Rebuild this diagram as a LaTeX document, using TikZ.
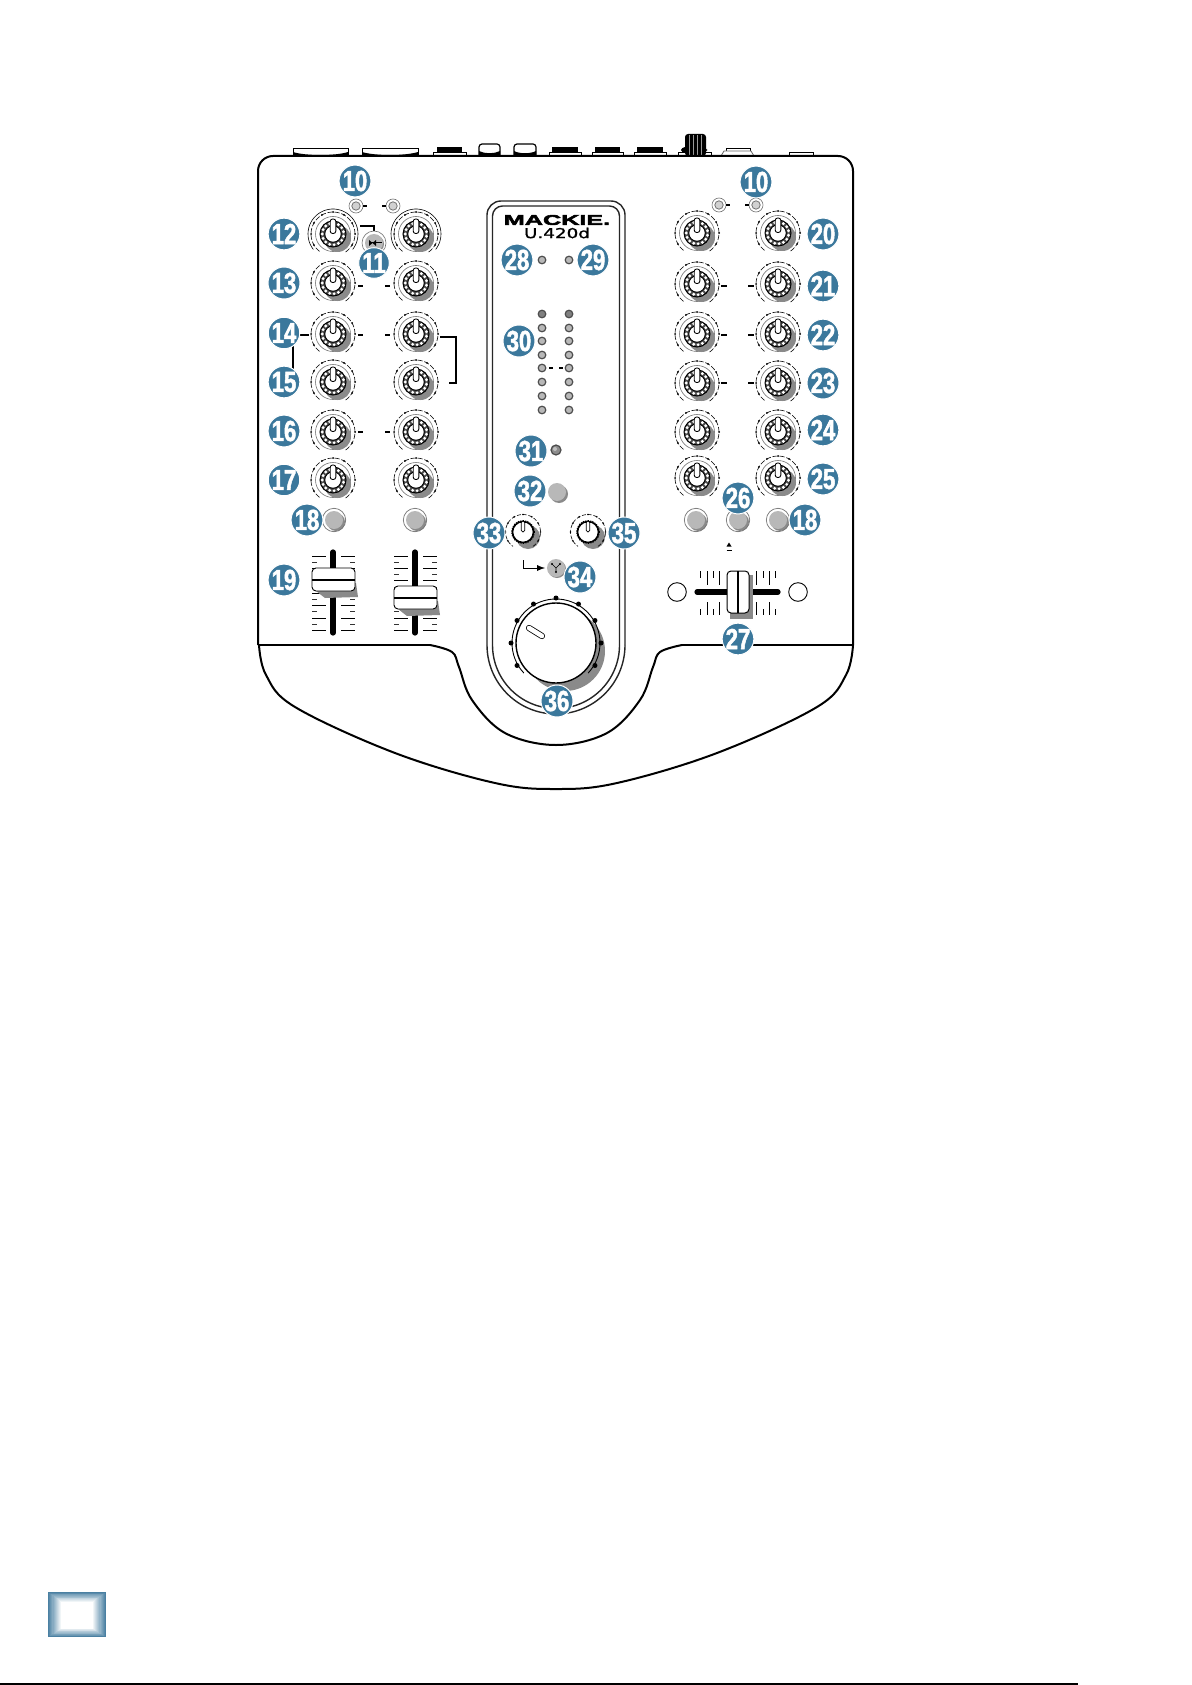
\documentclass[tikz,border=0pt]{standalone}
\usepackage{fontspec}
\setmainfont{Liberation Sans}
\newfontfamily\badgefont[FakeStretch=0.76,FakeBold=1.8]{Liberation Sans}
\newfontfamily\logofont[FakeStretch=1.8,FakeBold=4]{Liberation Sans}
\newfontfamily\modelfont[FakeStretch=1.35,FakeBold=1.2]{DejaVu Sans}
\definecolor{badgeblue}{HTML}{3B789C}
\definecolor{shad}{HTML}{8A8A8A}
\definecolor{ledgray}{HTML}{B8B8B8}
\definecolor{boxblue}{HTML}{4A80A2}
\tikzset{
  badge/.style={circle,fill=badgeblue,draw=white,line width=0.5pt,minimum size=15pt,inner sep=0pt,text=white,
     font=\badgefont\fontsize{14.5}{14.5}\selectfont\bfseries},
  outline/.style={line width=1pt,black,line join=round},
  conn/.style={line width=0.55pt,black},
  ringg/.style={line width=0.3pt,black!55},
  trk/.style={line width=2.6pt,black,line cap=round},
  jackbase/.style={line width=0.5pt,black,fill=white},
}
\newcommand{\ringarc}[3]{plot[variable=\t,domain=#1:#2,samples=40,smooth] (\t:#3)}
\newcommand{\knob}[2]{%
 \begin{scope}[shift={(#1,#2)},yscale=-1]
  \draw[ringg] (0,0) circle[radius=17.5];
  \fill[shad] (4.5,-4.5) circle[radius=13.5];
  \draw[line width=0.5pt,fill=black!70] (0,0) circle[radius=13];
  \foreach \a in {0,24,...,336}{\fill[white] (\a+12:10.8) circle[radius=1.6];}
  \draw[line width=0.5pt,fill=white] (0,0) circle[radius=8.3];
  \draw[line width=0.45pt,fill=white,rounded corners=1.2pt] (-2.8,0.5) rectangle (2.8,15);
  \draw[line width=0.3pt,dash pattern=on 2.6pt off 0.9pt] \ringarc{-55}{235}{22};
  \foreach \a in {-30,0,...,210}{\fill (\a:22) circle[radius=1];}
 \end{scope}}
\newcommand{\knobtop}[2]{%
 \knob{#1}{#2}
 \begin{scope}[shift={(#1,#2)},yscale=-1]
  \draw[line width=0.3pt] \ringarc{-38}{218}{25};
 \end{scope}}
\newcommand{\smallknob}[2]{%
 \begin{scope}[shift={(#1,#2)},yscale=-1]
  \fill[shad] (5,-5) circle[radius=12];
  \draw[line width=0.8pt,fill=white] (0,0) circle[radius=10.5];
  \draw[line width=0.6pt,dash pattern=on 0.6pt off 0.6pt] (0,0) circle[radius=11.3];
  \draw[line width=0.35pt,fill=white,rounded corners=0.8pt] (-1.8,0) rectangle (1.8,11);
  \draw[line width=0.3pt,dash pattern=on 2pt off 0.9pt] \ringarc{-55}{235}{17.5};
  \foreach \a in {-30,0,...,210}{\fill (\a:17.5) circle[radius=0.9];}
 \end{scope}}
\newcommand{\btn}[2]{%
 \fill[shad] (#1+2,#2+2) circle[radius=9];
 \fill[ledgray] (#1,#2) circle[radius=9];
 \draw[ringg,line width=0.35pt] (#1,#2) circle[radius=11.7];}
\newcommand{\led}[2]{%
 \draw[line width=0.6pt,draw=black!70,fill=ledgray] (#1,#2) circle[radius=3.8];}
\newcommand{\ledring}[2]{%
 \draw[line width=0.4pt,draw=black!55,fill=black!18] (#1,#2) circle[radius=4.2];
 \draw[ringg] (#1,#2) circle[radius=7];}
\newcommand{\faderticks}[1]{%
 \foreach \i in {0,2,...,12}{%
  \draw[line width=0.45pt] (#1-21,556+6.2*\i) -- (#1-7,556+6.2*\i);
  \draw[line width=0.45pt] (#1+8,556+6.2*\i) -- (#1+22,556+6.2*\i);}
 \foreach \i in {1,3,...,11}{%
  \draw[line width=0.45pt,black!80] (#1-21,556+6.2*\i) -- (#1-16,556+6.2*\i);
  \draw[line width=0.45pt,black!80] (#1+17,556+6.2*\i) -- (#1+22,556+6.2*\i);}
 \draw[trk] (#1,552) -- (#1,633);}
\newcommand{\faderknob}[2]{%
 \fill[shad] (#1-17,#2+11) -- (#1+23,#2+3) -- (#1+25,#2+17) -- (#1-8,#2+18) -- cycle;
 \draw[line width=0.45pt,fill=white,rounded corners=2pt] (#1-21,#2-12) rectangle (#1+22,#2+11);
 \draw[line width=1pt] (#1-21,#2) -- (#1+22,#2);}
\newcommand{\panel}[3]{% half-width, corner radius in pt, top
 \draw[line width=0.7pt,black!85,rounded corners=#2pt] (556-#1,645) -- (556-#1,#3) -- (556+#1,#3) -- (556+#1,645);
 \draw[line width=0.7pt,black!85] (556+#1,645) .. controls (556+#1,645+#1*0.5523) and (556+#1*0.5523,645+#1) .. (556,645+#1)
    .. controls (556-#1*0.5523,645+#1) and (556-#1,645+#1*0.5523) .. (556-#1,645);}
\begin{document}
\begin{tikzpicture}[x=0.5pt,y=-0.5pt]
\useasboundingbox (0,0) rectangle (1192,1685);
\fill[white] (0,0) rectangle (1192,1685);

% rear connectors
\draw[jackbase] (293,149) rectangle (348,156);
\fill (293,152) .. controls (305,156) and (336,156) .. (348,152) -- (348,156) -- (293,156) -- cycle;
\draw[jackbase] (362,149) rectangle (418,156);
\fill (362,152) .. controls (375,156) and (405,156) .. (418,152) -- (418,156) -- (362,156) -- cycle;
\foreach \xa/\xb/\xc/\xd in {433/437/462/466,549/552/578/581,592/595/620/623,634/637/663/666}{
 \fill (\xb,147) rectangle (\xc,153);
 \draw[jackbase] (\xa,153) rectangle (\xd,156);
}
\foreach \xa/\xb in {479/500,514/536}{
 \draw[line width=0.6pt,fill=white,rounded corners=1.5pt] (\xa,156) -- (\xa,144) -- (\xb,144) -- (\xb,156);
 \fill (\xa,151) .. controls (\xa+6,154) and (\xb-6,154) .. (\xb,151) -- (\xb,156) -- (\xa,156) -- cycle;
}
\draw[jackbase] (678,153) rectangle (711,156);
\fill[rounded corners=2pt] (681,147) rectangle (707,153);
\fill[rounded corners=1.5pt] (685,134) rectangle (706,156);
\foreach \x in {689,693,697,701}{\draw[line width=0.3pt,white!60!black] (\x,135) -- (\x,155);}
\draw[line width=0.4pt,fill=white] (726,148) rectangle (750,151);
\draw[line width=0.4pt,black!60,fill=white] (721,156) -- (724,151) -- (751,151) -- (754,156);
\draw[jackbase] (789,153) rectangle (813,156);

% tray outline
\draw[outline] plot[smooth,tension=0.6] coordinates {(853,645) (846,675) (817,707) (717,753) (617,783) (556,789) (495,783) (395,753) (295,707) (266,675) (259,645)};
\draw[outline] (258,645) -- (430,645);
\draw[outline] plot[smooth,tension=0.6] coordinates {(430,645) (452,652) (459,667) (472,700) (505,733) (556,745) (607,733) (640,700) (653,667) (660,652) (682,645)};
\draw[outline] (682,645) -- (853,645);
% body
\draw[outline,rounded corners=7.5pt] (258,645) -- (258,156) -- (853,156) -- (853,645);

% centre panel
\panel{69}{7}{201}
\panel{63.5}{5}{206}

% logo
\node[inner sep=0pt] (logo) at (557,220) {\logofont\fontsize{7}{7}\selectfont\bfseries MACKIE.};
\node[inner sep=0pt] (model) at (557,233) {\modelfont\fontsize{6.8}{7}\selectfont U.420d};

% left knobs
\knobtop{333}{234}\knobtop{416}{234}
\foreach \y in {283,334,382,432,480}{\knob{333}{\y}\knob{416}{\y}}
% right knobs
\foreach \y in {233,284,334,383,432,478}{\knob{697}{\y}\knob{778}{\y}}

% LEDs at top
\ledring{356}{206}\ledring{393}{206}\ledring{719}{205}\ledring{756}{205}
\draw[conn] (363,206) -- (367,206) (382,206) -- (386,206) (726,205) -- (730,205) (745,205) -- (749,205);
% knob dashes
\foreach \y in {286,335,432}{\draw[conn] (358,\y) -- (363,\y) (385,\y) -- (390,\y);}
\foreach \y in {286,335,383}{\draw[conn] (721,\y) -- (727,\y) (748,\y) -- (754,\y);}

% button 11
\coordinate (c11a) at (360,226);
\coordinate (c11b) at (374,226);
\coordinate (c11c) at (374,231);
\draw[conn] (c11a) -- (c11b) -- (c11c);
\fill[shad] (375,244) circle[radius=9];
\fill[ledgray] (374,243) circle[radius=9];
\draw[ringg] (374,243) circle[radius=12];
\fill (369,240) -- (376,246) -- (376,240) -- (369,246) -- cycle;
\draw[line width=0.5pt] (371,243) -- (382,243);

% brackets
\coordinate (b14a) at (298,335); \coordinate (b14b) at (309,335);
\draw[conn] (b14a) -- (b14b);
\draw[conn] (293,345) -- (293,370);
\draw[conn] (298,383) -- (300,383);
\draw[conn] (440,337) -- (456,337) -- (456,383) -- (449,383);

% buttons
\btn{334}{520}\btn{415}{520}\btn{696}{520}\btn{738}{520}\btn{778}{520}
\fill[shad] (559,494) circle[radius=9];
\fill[ledgray] (557,492) circle[radius=9];

% faders
\faderticks{333}\faderticks{415}
\faderknob{333}{580}\faderknob{415}{598}

% crossfader
\draw[line width=0.45pt] (677,592) circle[radius=9.3];
\draw[line width=0.45pt] (798,592) circle[radius=9.3];
\foreach \x/\s in {700/0,707/1,713/0,719/1,756/1,763/0,769/1,775/0}{
 \draw[line width=0.4pt] (\x,571) -- (\x,{578+7*\s});
 \draw[line width=0.4pt] (\x,{609-7*\s}) -- (\x,615);}
\draw[trk] (697,592) -- (778,592);
\fill[shad] (730,610) rectangle (753,619);
\fill[shad] (745,575) rectangle (753,619);
\draw[line width=0.5pt,fill=white,rounded corners=2pt] (727,571) rectangle (749,613);
\draw[line width=0.6pt] (738,571) -- (738,613);
\fill (729,542.5) -- (726.5,546.5) -- (731.5,546.5) -- cycle;
\draw[line width=0.5pt] (726.5,550) -- (731.5,550);

% meters
\led{542}{260}\led{569}{260}
\foreach \y in {328,341,355,368,382,396,410}{\led{542}{\y}\led{569}{\y}}
\draw[line width=0.6pt,draw=black!70,fill=black!50] (542,314) circle[radius=3.8];
\draw[line width=0.6pt,draw=black!70,fill=black!50] (569,314) circle[radius=3.8];
\draw[conn] (549,368) -- (553,368) (559,368) -- (563,368);
\draw[line width=0.6pt,draw=black!70,fill=black!45] (556,450) circle[radius=5];
\fill[black!25] (555,449) circle[radius=2];

% small knobs
\smallknob{523}{532}\smallknob{588}{532}
% XLR
\coordinate (x0) at (523,560); \coordinate (x1) at (523,568); \coordinate (x2) at (545,568);
\draw[line width=0.4pt,-latex] (x0) -- (x1) -- (x2);
\fill[shad] (557,569) circle[radius=9];
\fill[ledgray] (556,568) circle[radius=9];
\fill (552,564) circle[radius=1.1] (560,564) circle[radius=1.1] (556,572) circle[radius=1.1];
\draw[line width=0.3pt] (552,564) -- (556,568) -- (560,564) (556,568) -- (556,572);

% main knob
\begin{scope}[shift={(556,643)},yscale=-1]
 \fill[shad] (9,-8) circle[radius=40];
 \draw[line width=0.45pt] \ringarc{-43}{223}{44};
 \foreach \a in {-30,0,...,210}{\fill (\a:45) circle[radius=2.5];}
 \draw[line width=0.7pt,fill=white] (0,0) circle[radius=40];
 \draw[line width=3.1pt,line cap=round] (-27,15) -- (-14,7);
 \draw[line width=2.3pt,line cap=round,white] (-27,15) -- (-14,7);
\end{scope}

% badges
\foreach \n/\t/\x/\y in {a10/10/355/181,b10/10/756/182,n11/11/374/263,n12/12/284/234,n13/13/284/283,n14/14/284/333,n15/15/284/382,n16/16/284/431,n17/17/284/480,a18/18/307/520,b18/18/805/520,n19/19/284/580,n20/20/823/234,n21/21/823/286,n22/22/823/335,n23/23/823/383,n24/24/823/430,n25/25/823/479,n26/26/738/498,n27/27/738/639,n28/28/517/260,n29/29/593/260,n30/30/519/341,n31/31/531/451,n32/32/530/491,n33/33/489/533,n34/34/580/577,n35/35/624/533,n36/36/557/701}{
 \node[badge] (\n) at (\x,\y) {\t};
}

% page furniture
\foreach \i in {0,...,12}{
 \pgfmathsetmacro{\pc}{100-\i*100/12}
 \fill[boxblue!\pc!white] (48+\i*1.1,1592+\i*0.8) rectangle (106-\i*1.1,1637-\i*0.7);
}
\fill[white] (63,1603) rectangle (92,1627);
\draw[line width=1pt] (0,1684) -- (1078,1684);
\end{tikzpicture}
\end{document}
